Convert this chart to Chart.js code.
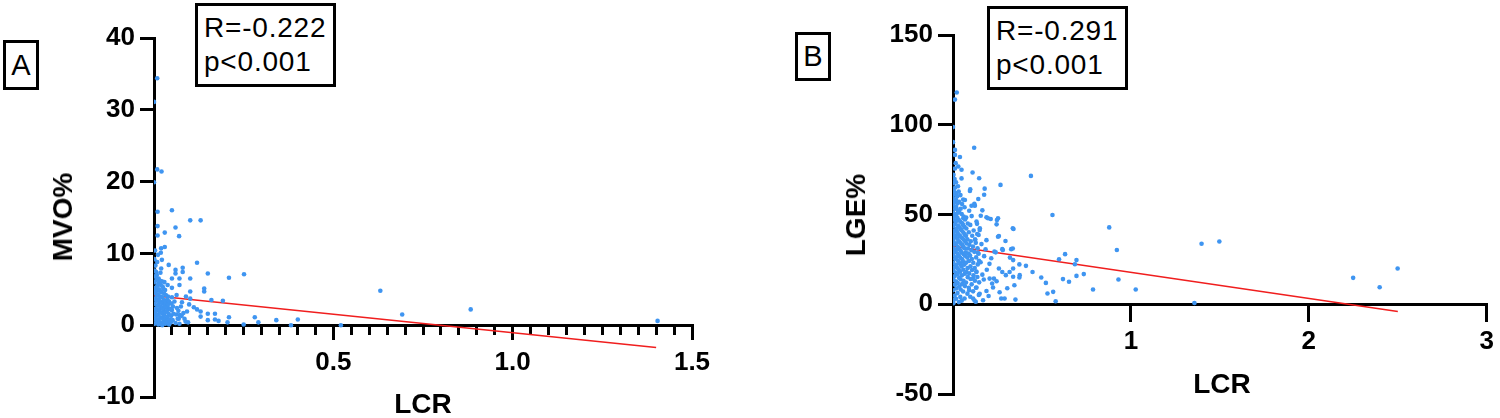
<!DOCTYPE html>
<html>
<head>
<meta charset="utf-8">
<script src="https://cdn.jsdelivr.net/npm/chart.js@4/dist/chart.umd.min.js"></script>
<style>
html,body{margin:0;padding:0;background:#fff;width:1500px;height:418px;overflow:hidden;}
canvas{position:absolute;top:0;}
#cA{left:0;}
#cB{left:760px;}
.box{position:absolute;border:3px solid #000;box-sizing:border-box;background:#fff;color:#000;
  font-family:"Liberation Sans",Arial,sans-serif;z-index:2;}
.letter{display:flex;align-items:center;justify-content:center;font-size:29px;line-height:1;}
.stat{font-size:28px;line-height:34px;padding:5px 0 0 6px;letter-spacing:0.8px;white-space:nowrap;}
.ttl{position:absolute;font-family:"Liberation Sans",Arial,sans-serif;font-weight:bold;font-size:28px;
  color:#000;white-space:nowrap;line-height:1;z-index:2;}
</style>
</head>
<body>
<canvas id="cA" width="740" height="418"></canvas>
<canvas id="cB" width="740" height="418"></canvas>

<div class="box letter" style="left:3px;top:40px;width:36px;height:50px;">A</div>
<div class="box stat" style="left:195px;top:3px;width:141px;height:84px;">R=-0.222<br>p&lt;0.001</div>
<div class="box letter" style="left:795px;top:32px;width:36px;height:49px;">B</div>
<div class="box stat" style="left:987px;top:6px;width:141px;height:84px;">R=-0.291<br>p&lt;0.001</div>

<div class="ttl" id="tYA" style="left:63px;top:217px;transform:translate(-50%,-50%) rotate(-90deg);">MVO%</div>
<div class="ttl" id="tXA" style="left:423px;top:404px;transform:translate(-50%,-50%);">LCR</div>
<div class="ttl" id="tYB" style="left:856px;top:215px;transform:translate(-50%,-50%) rotate(-90deg);">LGE%</div>
<div class="ttl" id="tXB" style="left:1222px;top:384px;transform:translate(-50%,-50%);">LCR</div>

<script>
// ---------- Panel A data: [LCR, MVO%] ----------
const pointsA = [
 [0.009,34.4],[0.000,31.1],[0.009,21.7],[0.021,21.4],[0.000,19.9],
 [0.010,15.8],[0.050,16.0],[0.010,13.8],[0.010,12.5],[0.030,12.9],[0.060,13.6],[0.101,14.6],[0.130,14.6],[0.070,12.4],
 [0.020,10.7],[0.030,10.9],[0.019,10.1],[0.022,9.1],[0.020,7.9],[0.120,8.7],[0.041,8.4],[0.060,7.7],[0.060,7.2],
 [0.080,8.0],[0.080,7.4],[0.150,7.2],[0.050,6.5],[0.071,6.5],[0.101,6.5],[0.209,6.6],[0.251,7.1],[0.038,5.6],
 [0.071,5.6],[0.050,5.2],[0.140,5.1],[0.140,4.7],[0.101,4.7],[0.039,4.0],[0.050,3.9],[0.089,4.0],[0.101,3.7],
 [0.160,3.5],[0.192,3.4],[0.111,2.5],[0.120,2.2],[0.130,1.9],[0.150,1.6],[0.170,1.6],[0.130,1.2],[0.150,0.7],
 [0.170,0.8],[0.180,0.6],[0.209,1.1],[0.250,0.1],[0.205,0.4],[0.077,1.3],[0.069,0.9],[0.088,0.5],[0.039,2.4],[0.050,2.1],
 [0.281,1.1],[0.291,0.4],[0.341,0.7],[0.382,0.0],[0.401,0.8],[0.521,0.0],[0.631,4.8],[0.692,1.5],[0.883,2.2],[1.404,0.6],
 [0.001,0.2],[0.003,0.9],[0.002,1.6],[0.004,2.3],[0.001,3.0],[0.003,3.7],[0.002,4.5],[0.004,5.2],[0.001,6.0],[0.003,6.8],
 [0.002,7.6],[0.004,8.3],[0.001,9.2],[0.003,10.4],[0.000,1.1],
 [0.007,0.5],[0.008,1.3],[0.006,2.0],[0.009,2.7],[0.007,3.4],[0.008,4.1],[0.006,4.8],[0.009,5.5],[0.007,6.3],[0.008,7.0],[0.006,7.4],[0.009,8.8],
 [0.012,0.1],[0.013,0.8],[0.011,1.5],[0.014,2.2],[0.012,2.9],[0.013,3.6],[0.011,4.3],[0.014,5.0],[0.012,5.8],[0.013,6.5],[0.011,9.8],
 [0.017,0.4],[0.018,1.1],[0.016,1.9],[0.019,2.6],[0.017,3.3],[0.018,4.0],[0.016,4.8],[0.019,5.6],[0.017,6.2],[0.018,7.3],
 [0.022,0.3],[0.023,1.0],[0.021,1.7],[0.024,2.4],[0.022,3.1],[0.023,3.9],[0.021,4.6],[0.024,5.4],[0.022,6.1],[0.023,0.0],
 [0.027,0.6],[0.028,1.4],[0.026,2.1],[0.029,2.8],[0.027,3.5],[0.028,4.4],[0.026,5.1],[0.029,6.0],
 [0.032,0.2],[0.033,0.9],[0.031,1.8],[0.034,2.5],[0.032,3.2],[0.033,4.2],[0.031,4.9],
 [0.037,0.5],[0.038,1.2],[0.036,2.0],[0.039,2.9],[0.037,3.6],
 [0.042,0.1],[0.043,0.8],[0.041,1.6],[0.044,2.3],[0.042,3.3],
 [0.047,0.4],[0.048,1.3],[0.046,2.2],[0.049,3.0],
 [0.052,0.7],[0.054,1.6],[0.053,2.6],[0.057,3.3],
 [0.060,0.3],[0.062,1.5],[0.064,2.4],[0.066,0.9],[0.063,4.2],
 [0.068,2.0],[0.072,1.4],[0.075,2.6],[0.078,3.2],[0.071,0.2],
 [0.082,1.7],[0.085,0.9],[0.092,1.9],[0.095,0.4],[0.098,2.9]
];
const fitAx = [0, 1.40];
const fitAy = [4.1, -3.1];

// ---------- Panel B data: [LCR, LGE%] ----------
const pointsB = [
 [0.021,118.0],[0.011,114.0],[0.000,98.7],[0.000,90.3],[0.119,87.2],[0.011,86.0],[0.039,82.0],[0.011,83.2],[0.015,78.6],
 [0.030,76.7],[0.048,74.9],[0.110,73.4],[0.147,70.2],[0.048,70.1],[0.438,71.5],[0.267,66.5],[0.178,64.4],[0.097,64.1],
 [0.095,63.1],[0.067,58.1],[0.123,54.9],[0.104,54.9],[0.120,56.0],[0.142,58.6],[0.175,61.0],[0.165,52.3],
 [0.156,49.3],[0.188,48.4],[0.212,47.5],[0.247,46.9],[0.559,49.7],[0.150,41.3],[0.245,44.5],[0.258,38.0],[0.340,41.9],
 [0.878,42.8],[0.921,30.2],[0.630,27.9],[0.596,25.1],[0.694,24.6],[0.685,22.3],[0.735,16.8],[0.694,15.8],[0.618,14.0],
 [0.652,12.5],[0.787,8.2],[0.930,13.8],[1.027,8.2],[0.447,18.0],[0.410,21.4],[0.373,22.2],[0.327,30.7],[0.338,24.6],
 [0.277,30.7],[0.240,28.9],[0.496,14.9],[0.522,11.9],[0.531,6.0],[0.563,6.9],[0.577,1.7],[0.351,2.6],[0.345,10.6],
 [0.290,3.2],[0.271,3.2],[0.262,6.7],[0.169,2.2],[0.113,3.2],[0.091,7.8],[0.132,9.3],[0.188,7.4],[0.225,9.3],
 [0.206,14.3],[0.173,13.8],[0.230,14.3],[0.277,18.0],[0.318,18.0],[0.338,15.3],[0.375,16.2],[0.297,16.2],[0.258,19.9],
 [0.338,19.9],[0.373,14.9],[0.113,14.3],[0.132,18.0],[0.197,47.9],[0.253,47.9],[0.336,42.3],[0.058,47.9],[0.151,42.3],
 [0.144,38.6],[0.253,37.6],[0.188,35.7],[0.280,30.2],[0.336,31.1],[0.233,29.3],
 [0.160,33.5],[0.175,26.8],[0.205,22.5],[0.215,25.6],[0.190,19.2],[0.165,16.5],[0.220,11.6],[0.245,12.8],[0.150,5.8],
 [0.200,4.6],[0.128,1.4],[0.305,8.9],[0.320,26.0],[0.295,35.2],[0.183,30.6],[0.155,23.4],[0.140,28.7],[0.125,36.0],[0.135,44.8],
 [1.357,0.7],[1.397,33.7],[1.497,35.0],[2.249,14.7],[2.398,9.5],[2.499,19.9],
 [0.002,0.6],[0.003,2.4],[0.001,7.8],[0.004,13.5],[0.002,18.6],[0.003,22.9],[0.001,27.2],[0.004,31.0],[0.002,35.3],
 [0.003,39.1],[0.001,43.4],[0.004,47.2],[0.002,51.0],[0.003,55.4],[0.001,59.2],[0.004,63.3],[0.002,67.5],[0.003,72.1],
 [0.009,4.8],[0.011,10.9],[0.010,15.7],[0.008,20.6],[0.012,25.3],[0.009,29.1],[0.011,33.4],[0.010,37.2],[0.008,41.0],
 [0.012,44.8],[0.009,48.9],[0.011,53.2],[0.010,57.1],[0.008,61.4],[0.012,65.0],[0.009,69.8],[0.011,75.6],
 [0.017,3.1],[0.019,8.8],[0.018,12.6],[0.016,17.7],[0.020,21.8],[0.017,26.1],[0.019,30.3],[0.018,34.0],[0.016,38.2],
 [0.020,42.1],[0.017,46.3],[0.019,50.2],[0.018,54.1],[0.016,58.3],[0.020,62.0],[0.017,67.9],
 [0.025,6.2],[0.027,11.8],[0.026,16.9],[0.024,20.2],[0.028,24.1],[0.025,28.3],[0.027,32.0],[0.026,36.4],[0.024,40.2],
 [0.028,43.9],[0.025,48.1],[0.027,52.3],[0.026,56.2],[0.024,60.1],[0.028,65.7],
 [0.033,1.2],[0.035,9.9],[0.034,14.8],[0.032,19.3],[0.036,23.0],[0.033,27.1],[0.035,30.8],[0.034,35.0],[0.032,38.9],
 [0.036,42.8],[0.033,46.9],[0.035,51.2],[0.034,57.1],[0.032,62.8],
 [0.041,4.1],[0.043,8.2],[0.042,13.9],[0.040,18.1],[0.044,22.2],[0.041,25.9],[0.043,29.8],[0.042,34.1],[0.040,38.0],
 [0.044,41.8],[0.041,46.0],[0.043,53.2],[0.042,60.8],
 [0.049,2.0],[0.051,11.2],[0.050,16.1],[0.048,21.0],[0.052,25.1],[0.049,28.8],[0.051,33.2],[0.050,37.0],[0.048,41.2],
 [0.052,45.1],[0.049,50.3],[0.051,55.8],
 [0.057,7.1],[0.059,13.0],[0.058,19.2],[0.056,23.8],[0.060,27.9],[0.057,32.1],[0.059,36.1],[0.058,40.0],[0.056,44.2],
 [0.060,48.8],[0.057,58.3],
 [0.065,3.2],[0.067,10.1],[0.066,17.0],[0.064,22.1],[0.068,27.0],[0.065,31.2],[0.067,35.2],[0.066,38.9],[0.064,43.1],
 [0.068,47.2],[0.065,54.0],
 [0.073,12.1],[0.075,17.9],[0.074,23.2],[0.072,29.0],[0.076,33.9],[0.073,38.1],[0.075,42.2],[0.074,48.3],
 [0.081,5.9],[0.083,15.1],[0.082,20.1],[0.080,26.0],[0.084,31.1],[0.081,36.2],[0.083,45.0],
 [0.089,9.1],[0.091,17.2],[0.090,24.1],[0.088,28.2],[0.092,33.1],[0.089,40.1],[0.091,52.1],
 [0.097,4.2],[0.099,14.1],[0.098,21.2],[0.096,27.1],[0.100,35.1],[0.097,44.2],
 [0.105,11.1],[0.107,19.1],[0.106,25.2],[0.104,30.1],[0.108,38.2],[0.105,49.1],
 [0.113,7.2],[0.115,16.1],[0.114,23.1],[0.112,32.2],[0.116,41.1],
 [0.121,2.1],[0.123,13.1],[0.122,20.2],[0.120,29.2],[0.124,36.1],[0.121,55.2],
 [0.129,9.2],[0.131,18.2],[0.130,26.1],[0.128,34.2],[0.132,46.1],
 [0.137,15.2],[0.139,22.2],[0.138,31.2],[0.136,39.1],
 [0.145,5.2],[0.147,12.2],[0.146,24.2],[0.144,28.1]
];
const fitBx = [0, 2.50];
const fitBy = [32.3, -4.0];

// ---------- Axis settings ----------
const xRangeA = [0, 1.5], xMajorStepA = 0.5, xMinorStepA = 0.05;
const yRangeA = [-10, 40], yStepA = 10;
const xRangeB = [0, 3], xStepB = 1;
const yRangeB = [-50, 150], yStepB = 50;

const POINT_COLOR = '#3f95f1';
const LINE_COLOR = '#f01e1e';
const tickFont = {family: '"Liberation Sans", Arial, sans-serif', size: 26, weight: 'bold'};

function gridOpts(len) {
  return {drawOnChartArea: false, drawTicks: true, tickLength: len, lineWidth: 3, color: '#000', tickColor: '#000', tickWidth: 3};
}
const borderOn = {display: true, width: 3, color: '#000'};

function makeChart(id, pts, fx, fy, scales, padding) {
  new Chart(document.getElementById(id), {
    type: 'scatter',
    data: {
      datasets: [
        {
          data: pts.map(p => ({x: p[0], y: p[1]})),
          backgroundColor: POINT_COLOR, borderWidth: 0, pointRadius: 2.3, pointHoverRadius: 2.3, order: 0
        },
        {
          data: fx.map((x, i) => ({x: x, y: fy[i]})),
          showLine: true, borderColor: LINE_COLOR, borderWidth: 1.6, pointRadius: 0, fill: false, order: 1
        }
      ]
    },
    options: {
      responsive: false, animation: false, events: [],
      layout: {padding: padding},
      plugins: {legend: {display: false}, tooltip: {enabled: false}, title: {display: false}},
      scales: scales
    }
  });
}

// Panel A
makeChart('cA', pointsA, fitAx, fitAy, {
  x: {
    type: 'linear', position: {y: 0}, min: xRangeA[0], max: xRangeA[1],
    grid: gridOpts(8), border: borderOn,
    ticks: {display: false, stepSize: xMinorStepA, autoSkip: false}
  },
  xMajor: {
    type: 'linear', axis: 'x', position: {y: 0}, min: xRangeA[0], max: xRangeA[1],
    grid: gridOpts(15), border: {display: false},
    ticks: {stepSize: xMajorStepA, autoSkip: false, maxRotation: 0, font: tickFont, color: '#000', padding: 7,
      callback: v => (v === 0 ? '' : Number(v).toFixed(1))}
  },
  y: {
    type: 'linear', position: 'left', min: yRangeA[0], max: yRangeA[1],
    grid: gridOpts(14), border: borderOn,
    ticks: {stepSize: yStepA, font: tickFont, color: '#000', padding: 5},
    afterFit: s => { s.width = 154; }
  }
}, {left: 0, right: 48, top: 38, bottom: 21});

// Panel B
makeChart('cB', pointsB, fitBx, fitBy, {
  x: {
    type: 'linear', position: {y: 0}, min: xRangeB[0], max: xRangeB[1],
    grid: gridOpts(16), border: borderOn,
    ticks: {stepSize: xStepB, autoSkip: false, maxRotation: 0, font: tickFont, color: '#000', padding: 6,
      callback: v => (v === 0 ? '' : String(v))}
  },
  y: {
    type: 'linear', position: 'left', min: yRangeB[0], max: yRangeB[1],
    grid: gridOpts(15), border: borderOn,
    ticks: {stepSize: yStepB, font: tickFont, color: '#000', padding: 5},
    afterFit: s => { s.width = 193; }
  }
}, {left: 0, right: 9, top: 35, bottom: 24});
</script>
</body>
</html>
